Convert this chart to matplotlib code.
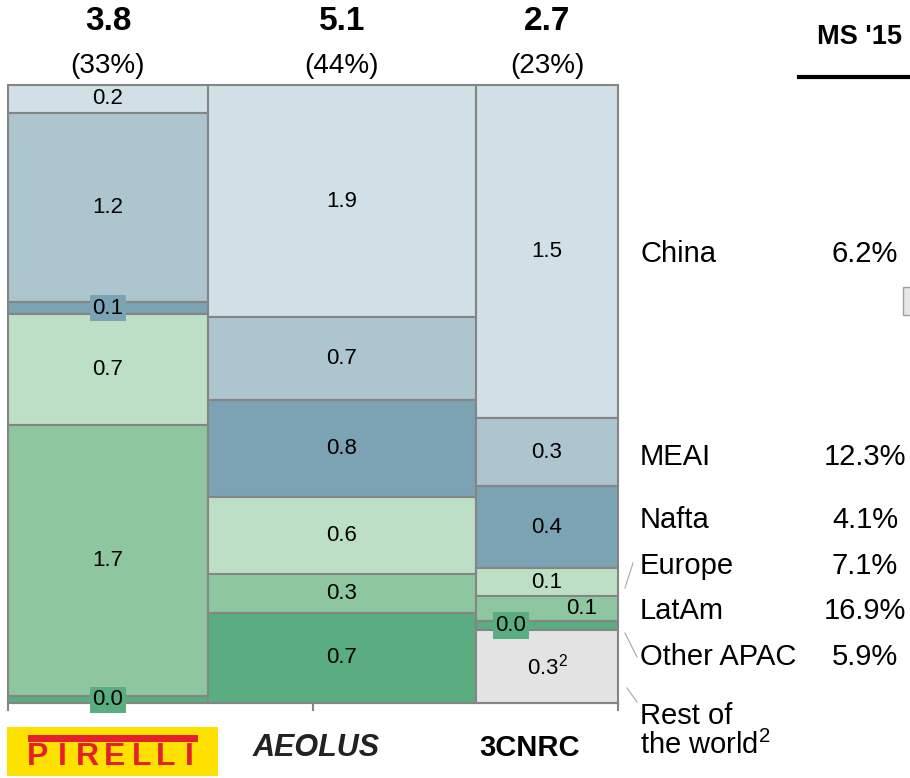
import matplotlib
matplotlib.use("Agg")
import matplotlib.pyplot as plt
from matplotlib.patches import Rectangle
from matplotlib.lines import Line2D
from matplotlib.transforms import blended_transform_factory

plt.rcParams['font.family'] = ['Liberation Sans', 'DejaVu Sans']
plt.rcParams['mathtext.fontset'] = 'custom'
plt.rcParams['mathtext.rm'] = 'Liberation Sans'
plt.rcParams['mathtext.default'] = 'regular'

# data (volumes in m units, regions listed top to bottom)
brands = ['Pirelli', 'Aeolus', '3CNRC']
totals = [3.8, 5.1, 2.7]
shares = [33, 44, 23]
regions = ['China', 'MEAI', 'Nafta', 'Europe', 'LatAm', 'Other APAC', 'Rest of the world']
pirelli_vol = [0.17, 1.16, 0.07, 0.68, 1.66, 0.04, 0.0]
aeolus_vol = [1.90, 0.68, 0.79, 0.63, 0.32, 0.74, 0.0]
cnrc_vol = [1.46, 0.30, 0.36, 0.12, 0.11, 0.04, 0.32]
ms15 = ['6.2%', '12.3%', '4.1%', '7.1%', '16.9%', '5.9%']

colors = ['#d1dfe6', '#adc5cf', '#7ba3b4', '#bddfc5', '#8ec6a0', '#5aad80', '#e3e3e3']
edge = '#858585'

W, H = 910, 778
fig = plt.figure(figsize=(9.1, 7.78), dpi=100)

def fx(px):
    return px / W

def fy(py):
    return 1 - py / H

ax = fig.add_axes([fx(8), fy(703), fx(618) - fx(8), fy(85) - fy(703)])

# small labels that get a coloured box behind them / a sideways nudge (points)
boxed = {(0, 2), (0, 5), (2, 5)}
nudge = {(2, 4): 25, (2, 5): -26}

left = 0.0
for i, vols in enumerate([pirelli_vol, aeolus_vol, cnrc_vol]):
    col_sum = sum(vols)
    top = 1.0
    for j, v in enumerate(vols):
        if v == 0:
            continue
        frac = v / col_sum
        bottom = top - frac
        ax.bar(left, frac, totals[i], bottom=bottom, align='edge', color=colors[j],
               edgecolor=edge, linewidth=1.5, clip_on=False)
        txt = f"{v:.1f}"
        if j == 6:
            txt += "$^{2}$"
        kw = {}
        if (i, j) in boxed:
            kw['bbox'] = dict(boxstyle='square,pad=0.12', fc=colors[j], ec='none')
        ax.annotate(txt, (left + totals[i] / 2, (top + bottom) / 2),
                    xytext=(nudge.get((i, j), 0), 0), textcoords='offset points',
                    ha='center', va='center', fontsize=16, annotation_clip=False, **kw)
        top = bottom
    left += totals[i]

grand = sum(totals)
ax.set_xlim(0, grand)
ax.set_ylim(0, 1)
for s in ['top', 'left', 'right']:
    ax.spines[s].set_visible(False)
ax.spines['bottom'].set_color(edge)
ax.spines['bottom'].set_linewidth(1.5)
ax.set_xticks([0, grand / 2, grand])
ax.set_yticks([])
ax.tick_params(axis='x', length=6, width=1.5, color=edge, labelbottom=False)

# column headers
trans = blended_transform_factory(ax.transData, fig.transFigure)
left = 0.0
for i in range(len(brands)):
    xc = left + totals[i] / 2
    ax.text(xc, fy(21), f"{totals[i]:.1f}", fontsize=24, fontweight='bold',
            ha='center', va='center', transform=trans)
    ax.text(xc, fy(66), f"({shares[i]}%)", fontsize=20, ha='center', va='center',
            transform=trans)
    left += totals[i]

# right-hand region labels and market share
label_y = [254, 457, 520, 566, 611, 657]
for name, ms, y in zip(regions[:6], ms15, label_y):
    fig.text(fx(640), fy(y), name, fontsize=21, ha='left', va='center')
    fig.text(fx(865), fy(y), ms, fontsize=21, ha='center', va='center')
fig.text(fx(640), fy(716), "Rest of", fontsize=21, ha='left', va='center')
fig.text(fx(640), fy(745), "the world$^{2}$", fontsize=21, ha='left', va='center')

fig.text(fx(817), fy(37), "MS '15", fontsize=19.5, fontweight='bold', ha='left', va='center')
fig.add_artist(Line2D([fx(799), fx(915)], [fy(77), fy(77)], color='black', lw=3))
fig.add_artist(Rectangle((fx(903), fy(315)), fx(20), (315 - 287) / H,
                         transform=fig.transFigure, fc='#e6e6e6', ec='#a0a0a0', lw=1))

# leader lines
for (x0, y0, x1, y1) in [(625, 588, 633, 563), (625, 633, 637, 657), (627, 688, 637, 702)]:
    fig.add_artist(Line2D([fx(x0), fx(x1)], [fy(y0), fy(y1)], color='#a6a6a6', lw=0.8))

# brand logos
red = '#e3202b'
fig.add_artist(Rectangle((fx(7), fy(776)), fx(211), (776 - 727) / H,
                         transform=fig.transFigure, fc='#ffe100', ec='none'))
# long arch of the Pirelli "P"
fig.add_artist(Rectangle((fx(28), fy(742)), fx(170), 7 / H,
                         transform=fig.transFigure, fc=red, ec='none'))
for ch, xc in zip("PIRELLI", [38, 62, 87, 115, 142, 166, 189]):
    fig.text(fx(xc), fy(757), ch, fontsize=23, fontweight='bold', color=red,
             ha='center', va='center')
fig.text(fx(316), fy(748), "AEOLUS", fontsize=22, fontweight='bold', fontstyle='italic',
         color='#222222', ha='center', va='center')
fig.text(fx(530), fy(748), "3CNRC", fontsize=21, fontweight='bold', ha='center', va='center')

fig.savefig("out.png", dpi=100)
